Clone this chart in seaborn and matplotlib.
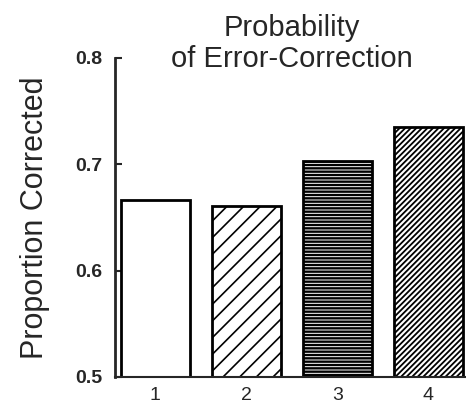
import matplotlib
matplotlib.use("Agg")
import matplotlib.pyplot as plt
import seaborn as sns
import pandas as pd

# values
conditions = ["1", "2", "3", "4"]
proportions = [0.666, 0.661, 0.703, 0.735]
hatches = ["", "//", "-----", "//////"]
hatch_widths = [1.0, 1.2, 1.7, 1.3]
ytick_vals = [0.5, 0.6, 0.7, 0.8]

sns.set_style("white")
plt.rcParams["font.family"] = ["Liberation Sans", "DejaVu Sans"]
plt.rcParams["hatch.linewidth"] = 1.3

df = pd.DataFrame({"condition": conditions, "proportion": proportions})

fig = plt.figure(figsize=(4.66, 4.17), dpi=100)
ax = fig.add_axes([0.247, 0.096, 0.76, 0.765])

sns.barplot(data=df, x="condition", y="proportion", color="white",
            width=0.76, edgecolor="black", linewidth=2, ax=ax)

for bar, h, hw in zip(ax.patches, hatches, hatch_widths):
    bar.set_hatch(h)
    bar.set_facecolor("white")
    bar.set_edgecolor("black")
    if hasattr(bar, "set_hatch_linewidth"):
        bar.set_hatch_linewidth(hw)

ax.set_ylim(0.5, 0.8)
ax.set_xlim(-0.44, 3.45)
ax.set_yticks(ytick_vals)
ax.set_yticklabels([f"{v:.1f}" for v in ytick_vals], fontsize=14, fontweight="bold")
ax.tick_params(axis="y", direction="in", length=5, width=1.5, left=True, pad=9)
ax.tick_params(axis="x", length=0, labelsize=14, pad=7)

sns.despine(ax=ax, top=True, right=True)
ax.spines["left"].set_linewidth(2)
ax.spines["bottom"].set_linewidth(1.5)

ax.set_xlabel("")
ax.set_ylabel("Proportion Corrected", fontsize=22, labelpad=18)

ax.text(0.5, 1.045, "Probability\nof Error-Correction", transform=ax.transAxes,
        ha="center", va="center", fontsize=21, linespacing=1.15)

fig.savefig("out.png", dpi=100)
